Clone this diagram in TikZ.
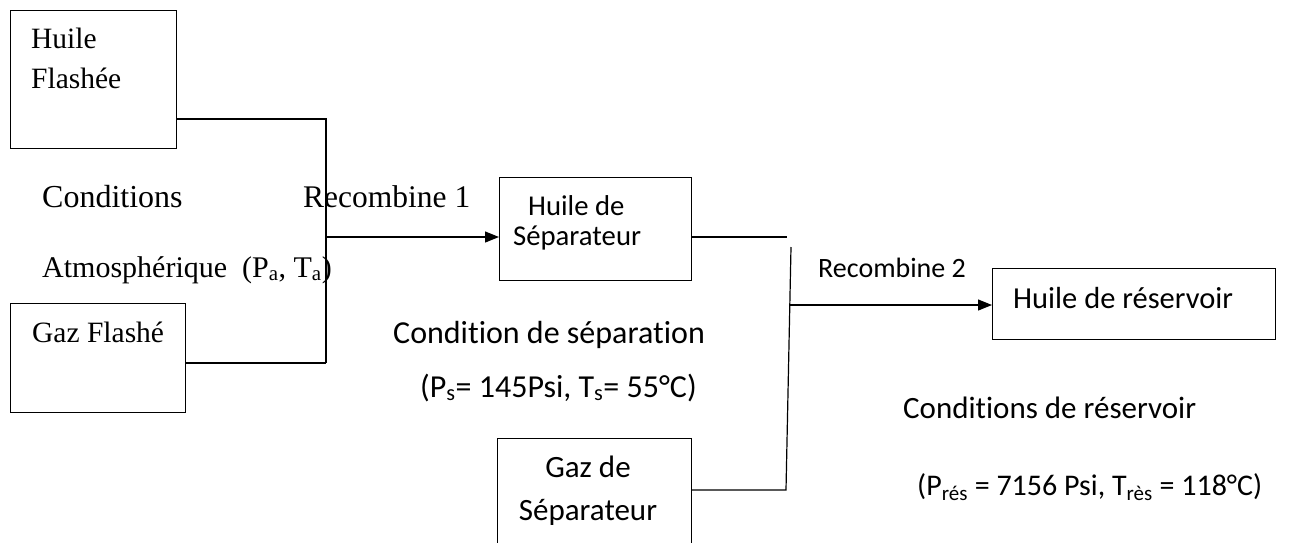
\documentclass[tikz,border=0pt]{standalone}
\usepackage{fontspec}
\setmainfont{Liberation Serif}
\newfontfamily\calib[Ligatures=NoCommon]{Carlito}
\usetikzlibrary{arrows.meta}
\begin{document}
\begin{tikzpicture}[x=1pt,y=-1pt,
  box/.style={draw, line width=1.2pt, rectangle, inner sep=0pt, anchor=north west},
  conn/.style={line width=1.2pt},
  arr/.style={conn, -{Triangle[length=14pt,width=11pt]}},
  tms/.style={anchor=base west, inner sep=0pt, font=\fontsize{#1}{#1}\selectfont},
  tms/.default=29.5,
  cal/.style={anchor=base west, inner sep=0pt, font=\calib\fontsize{#1}{#1}\selectfont},
  cal/.default=30]
\useasboundingbox (0,0) rectangle (1301,542);
\clip (0,0) rectangle (1301,542);
% boxes
\node[box, minimum width=166pt, minimum height=138pt] (hf) at (10,10) {};
\node[box, minimum width=175pt, minimum height=109pt] (gf) at (10,303) {};
\node[box, minimum width=192pt, minimum height=103pt] (hs) at (499,177) {};
\node[box, minimum width=194pt, minimum height=110pt] (gs) at (497,438) {};
\node[box, minimum width=283pt, minimum height=71pt] (hr) at (992,268) {};
% box texts
\node[tms] (t1) at (31,48) {Huile};
\node[tms] (t2) at (31,88) {Flashée};
\node[tms] (t3) at (32,342) {Gaz Flashé};
\node[cal=28.7] (t4) at (528,215) {Huile de};
\node[cal=28.7] (t5) at (513,245) {Séparateur};
\node[cal=31, anchor=base] (t6) at (588,477) {Gaz de};
\node[cal=31, anchor=base] (t7) at (588,520) {Séparateur};
\node[cal=30.5] (t8) at (1013,308) {Huile de réservoir};
% labels
\node[tms=32] (l1) at (42,207) {Conditions};
\node[tms=31.5] (l2) at (303,207) {Recombine 1};
\node[tms=30] (l3) at (42,277) {Atmosphérique\ \ (P\textsubscript{a}, T\textsubscript{a})};
\node[cal=32] (l4) at (393,343) {Condition de séparation};
\node[cal=32] (l5) at (420,397) {(P\textsubscript{s}= 145Psi, T\textsubscript{s}= 55°C)};
\node[cal=28] (l6) at (818,277) {Recombine 2};
\node[cal=31] (l7) at (903,418) {Conditions de réservoir};
\node[cal=30] (l8) at (917,495) {(P\textsubscript{rés} = 7156 Psi, T\textsubscript{rès} = 118°C)};
% connectors
\coordinate (j1t) at (326,119);
\coordinate (j1m) at (326,237);
\coordinate (j1b) at (326,363);
\draw[conn] (hf.east |- j1t) -- (j1t) -- (j1b);
\draw[conn] (gf.east |- j1b) -- (j1b);
\draw[arr] (j1m) -- (hs.west |- j1m);
\coordinate (j2a) at (787,237);
\coordinate (j2t) at (791,247);
\coordinate (j2m) at (790,305);
\coordinate (j2b) at (786,490);
\draw[conn] (hs.east |- j2a) -- (j2a);
\draw[conn] (gs.east |- j2b) -- (j2b) -- (j2t);
\draw[arr] (j2m) -- (hr.west |- j2m);
\end{tikzpicture}
\end{document}
